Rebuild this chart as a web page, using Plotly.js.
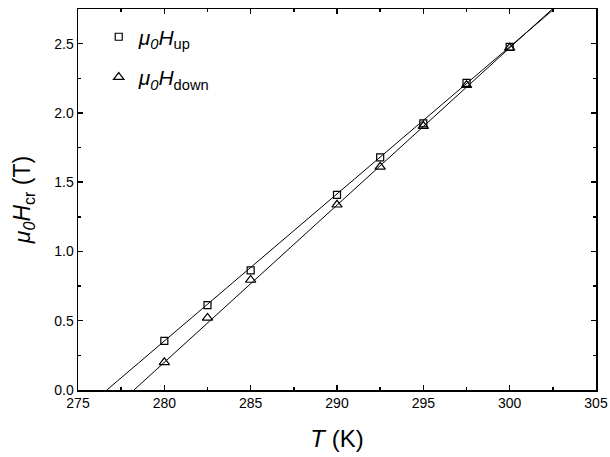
<!DOCTYPE html>
<html>
<head>
<meta charset="utf-8">
<script src="https://cdn.plot.ly/plotly-3.0.1.min.js"></script>
<style>html,body{margin:0;padding:0;background:#fff;}</style>
</head>
<body>
<div id="chart" style="width:610px;height:457px;"></div>
<script>
// Temperatures (K)
const T = [280, 282.5, 285, 290, 292.5, 295, 297.5, 300];
// mu0 H_up (T)
const Hup = [0.354, 0.613, 0.864, 1.409, 1.679, 1.924, 2.217, 2.477];
// mu0 H_down (T)
const Hdown = [0.200, 0.520, 0.794, 1.337, 1.611, 1.905, 2.200, 2.470];
// Linear fit lines (endpoints)
const fitUpT = [276.67, 302.57];
const fitUpH = [0, 2.75];
const fitDownT = [278.24, 302.47];
const fitDownH = [0, 2.75];

const traces = [
  {x: fitUpT, y: fitUpH, mode: 'lines', line: {color: '#000', width: 1}, showlegend: false, hoverinfo: 'skip'},
  {x: fitDownT, y: fitDownH, mode: 'lines', line: {color: '#000', width: 1}, showlegend: false, hoverinfo: 'skip'},
  {x: T, y: Hup, mode: 'markers', name: '<i>μ<sub>0</sub>H</i><sub>up</sub>', legendgroup: 'a',
   marker: {symbol: 'square-open', size: 7, color: '#000', line: {width: 1.2, color: '#000'}}},
  {x: T, y: Hdown, mode: 'markers', name: '<i>μ<sub>0</sub>H</i><sub>down</sub>', legendgroup: 'b',
   marker: {symbol: 'triangle-up-open', size: 9, color: '#000', line: {width: 1.2, color: '#000'}}}
];

const axisCommon = {
  showline: true, linecolor: '#000', linewidth: 1.5, mirror: 'ticks',
  ticks: 'inside', ticklen: 5, tickwidth: 1.5, tickcolor: '#000',
  showgrid: false, zeroline: false,
  tickfont: {family: 'Liberation Sans, Arial, sans-serif', size: 14, color: '#000'}
};

const layout = {
  width: 610, height: 457,
  margin: {l: 78, r: 14, t: 9, b: 67},
  paper_bgcolor: '#fff', plot_bgcolor: '#fff',
  font: {family: 'Liberation Sans, Arial, sans-serif', color: '#000'},
  xaxis: Object.assign({}, axisCommon, {
    range: [275, 305], dtick: 5, tick0: 275,
    minor: {ticks: 'inside', ticklen: 3, tickwidth: 1.5, tickcolor: '#000', dtick: 2.5, showgrid: false},
    title: {text: '<i>T</i> (K)', font: {size: 24, color: '#000'}, standoff: 20}
  }),
  yaxis: Object.assign({}, axisCommon, {
    range: [0, 2.75], dtick: 0.5, tick0: 0, tickformat: '.1f',
    minor: {ticks: 'inside', ticklen: 3, tickwidth: 1.5, tickcolor: '#000', dtick: 0.25, showgrid: false},
    title: {text: '<i>μ<sub>0</sub>H</i><sub>cr</sub> (T)', font: {size: 23, color: '#000'}, standoff: 17}
  }),
  legend: {x: 0.04, y: 0.98, xanchor: 'left', yanchor: 'top',
    bgcolor: 'rgba(0,0,0,0)', font: {size: 21, color: '#000'}, itemwidth: 30, tracegroupgap: 10},
  showlegend: true
};

Plotly.newPlot('chart', traces, layout, {displayModeBar: false, staticPlot: true});
</script>
</body>
</html>
